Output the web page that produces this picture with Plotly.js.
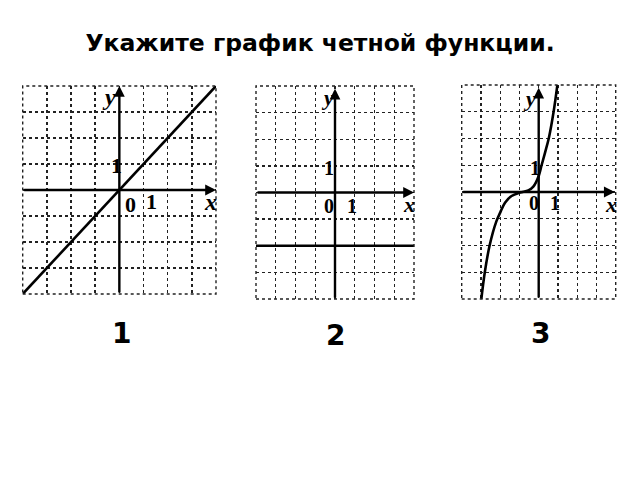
<!DOCTYPE html>
<html>
<head>
<meta charset="utf-8">
<script src="https://cdn.plot.ly/plotly-3.0.1.min.js"></script>
<style>
  html, body { margin: 0; padding: 0; background: #fff; }
  #chart { width: 640px; height: 480px; }
</style>
</head>
<body>
<div id="chart"></div>
<script>
// graph 1: straight line y = x
var line1X = [-4, 4];
var line1Y = [-4, 4];

// graph 2: horizontal line y = -2
var line2X = [-4, 4];
var line2Y = [-2, -2];

// graph 3: cubic-like curve
var curve3X = [-2.98, -2.8, -2.55, -2.2, -2.0, -1.75, -1.41, -0.97, -0.54, -0.28, 0, 0.15, 0.34, 0.53, 0.78, 0.97];
var curve3Y = [-4, -3, -2, -1.1, -0.77, -0.4, -0.15, -0.02, 0.06, 0.2, 0.6, 1.0, 1.5, 2.03, 3.03, 4];

var answerLabels = ['1', '2', '3'];
var titleText = 'Укажите график четной функции.';

var W = 640, H = 480;
function px(x) { return x / W; }
function py(y) { return 1 - y / H; }

var lineStyle = {color: '#000', width: 2.6};

var data = [
  {x: line1X, y: line1Y, xaxis: 'x', yaxis: 'y', mode: 'lines', line: lineStyle, hoverinfo: 'skip'},
  {x: line2X, y: line2Y, xaxis: 'x2', yaxis: 'y2', mode: 'lines', line: lineStyle, hoverinfo: 'skip'},
  {x: curve3X, y: curve3Y, xaxis: 'x3', yaxis: 'y3', mode: 'lines',
   line: {color: '#000', width: 2.6, shape: 'spline', smoothing: 1}, hoverinfo: 'skip'}
];

function gridAxis(domain, anchor) {
  return {
    domain: domain,
    anchor: anchor,
    range: [-4, 4],
    dtick: 1,
    tick0: 0,
    showgrid: true,
    gridcolor: '#222',
    gridwidth: 1.4,
    griddash: 'dot',
    zeroline: false,
    showline: false,
    showticklabels: false,
    ticks: '',
    fixedrange: true
  };
}

// plot boxes in pixels: [left, right, top, bottom]
var boxes = [
  [22.7, 216, 86, 294],
  [256, 414, 86, 299],
  [461.7, 615.7, 85, 299]
];

var layout = {
  width: W,
  height: H,
  margin: {l: 0, r: 0, t: 0, b: 0},
  paper_bgcolor: '#fff',
  plot_bgcolor: '#fff',
  showlegend: false,
  title: {
    text: '<b>' + titleText + '</b>',
    font: {family: 'DejaVu Sans', size: 23.5, color: '#000'},
    x: 0.5, xanchor: 'center',
    y: py(43), yanchor: 'middle'
  },
  shapes: [],
  annotations: []
};

boxes.forEach(function (b, i) {
  var n = i === 0 ? '' : String(i + 1);
  var xd = [px(b[0]), px(b[1])];
  var yd = [py(b[3]), py(b[2])];
  layout['xaxis' + n] = gridAxis(xd, 'y' + n);
  layout['yaxis' + n] = gridAxis(yd, 'x' + n);
  // dotted outer border
  layout.shapes.push({
    type: 'rect', xref: 'x' + n + ' domain', yref: 'y' + n + ' domain',
    x0: 0, x1: 1, y0: 0, y1: 1,
    line: {color: '#222', width: 1.4, dash: 'dot'}
  });
});

// axes with arrows
var axisTips = [
  {xTip: 4, yTip: 4},
  {xTip: 4, yTip: 3.9},
  {xTip: 3.95, yTip: 3.9}
];
axisTips.forEach(function (t, i) {
  var n = i === 0 ? '' : String(i + 1);
  var common = {
    text: '', showarrow: true, arrowhead: 2, arrowsize: 0.9, arrowwidth: 2.4,
    arrowcolor: '#000', standoff: 0, startstandoff: 0,
    xref: 'x' + n, yref: 'y' + n, axref: 'x' + n, ayref: 'y' + n
  };
  layout.annotations.push(Object.assign({x: t.xTip, y: 0, ax: -4, ay: 0}, common));
  layout.annotations.push(Object.assign({x: 0, y: t.yTip, ax: 0, ay: -4}, common));
});

// axis letters and unit marks, pixel positions
var axisText = [
  // [text, x, y, size, italic]
  ['y', 109.3, 97.3, 24, true], ['1', 116.7, 165, 22, false], ['0', 130.7, 204, 22, false],
  ['1', 151.7, 201.7, 22, false], ['x', 210.7, 201.7, 24, true],
  ['y', 327.3, 97.3, 22, true], ['1', 329.3, 168.3, 20, false], ['0', 329.3, 206, 20, false],
  ['1', 351.7, 206, 20, false], ['x', 409.3, 205, 22, true],
  ['y', 529.3, 98.3, 22, true], ['1', 534.7, 167.7, 20, false], ['0', 534.3, 203.3, 20, false],
  ['1', 555, 203.3, 20, false], ['x', 610.7, 205, 22, true]
];
axisText.forEach(function (a) {
  layout.annotations.push({
    text: '<b>' + (a[4] ? '<i>' + a[0] + '</i>' : a[0]) + '</b>',
    x: px(a[1]), y: py(a[2]), xref: 'paper', yref: 'paper',
    xanchor: 'center', yanchor: 'middle', showarrow: false,
    font: {family: 'Liberation Serif', size: a[3], color: '#000'}
  });
});

// answer numbers under the graphs
var answerPos = [[121.7, 333.3], [335, 335], [540, 333.3]];
answerLabels.forEach(function (t, i) {
  layout.annotations.push({
    text: '<b>' + t + '</b>',
    x: px(answerPos[i][0]), y: py(answerPos[i][1]), xref: 'paper', yref: 'paper',
    xanchor: 'center', yanchor: 'middle', showarrow: false,
    font: {family: 'DejaVu Sans', size: 28, color: '#000'}
  });
});

Plotly.newPlot('chart', data, layout, {displayModeBar: false, staticPlot: true});
</script>
</body>
</html>
